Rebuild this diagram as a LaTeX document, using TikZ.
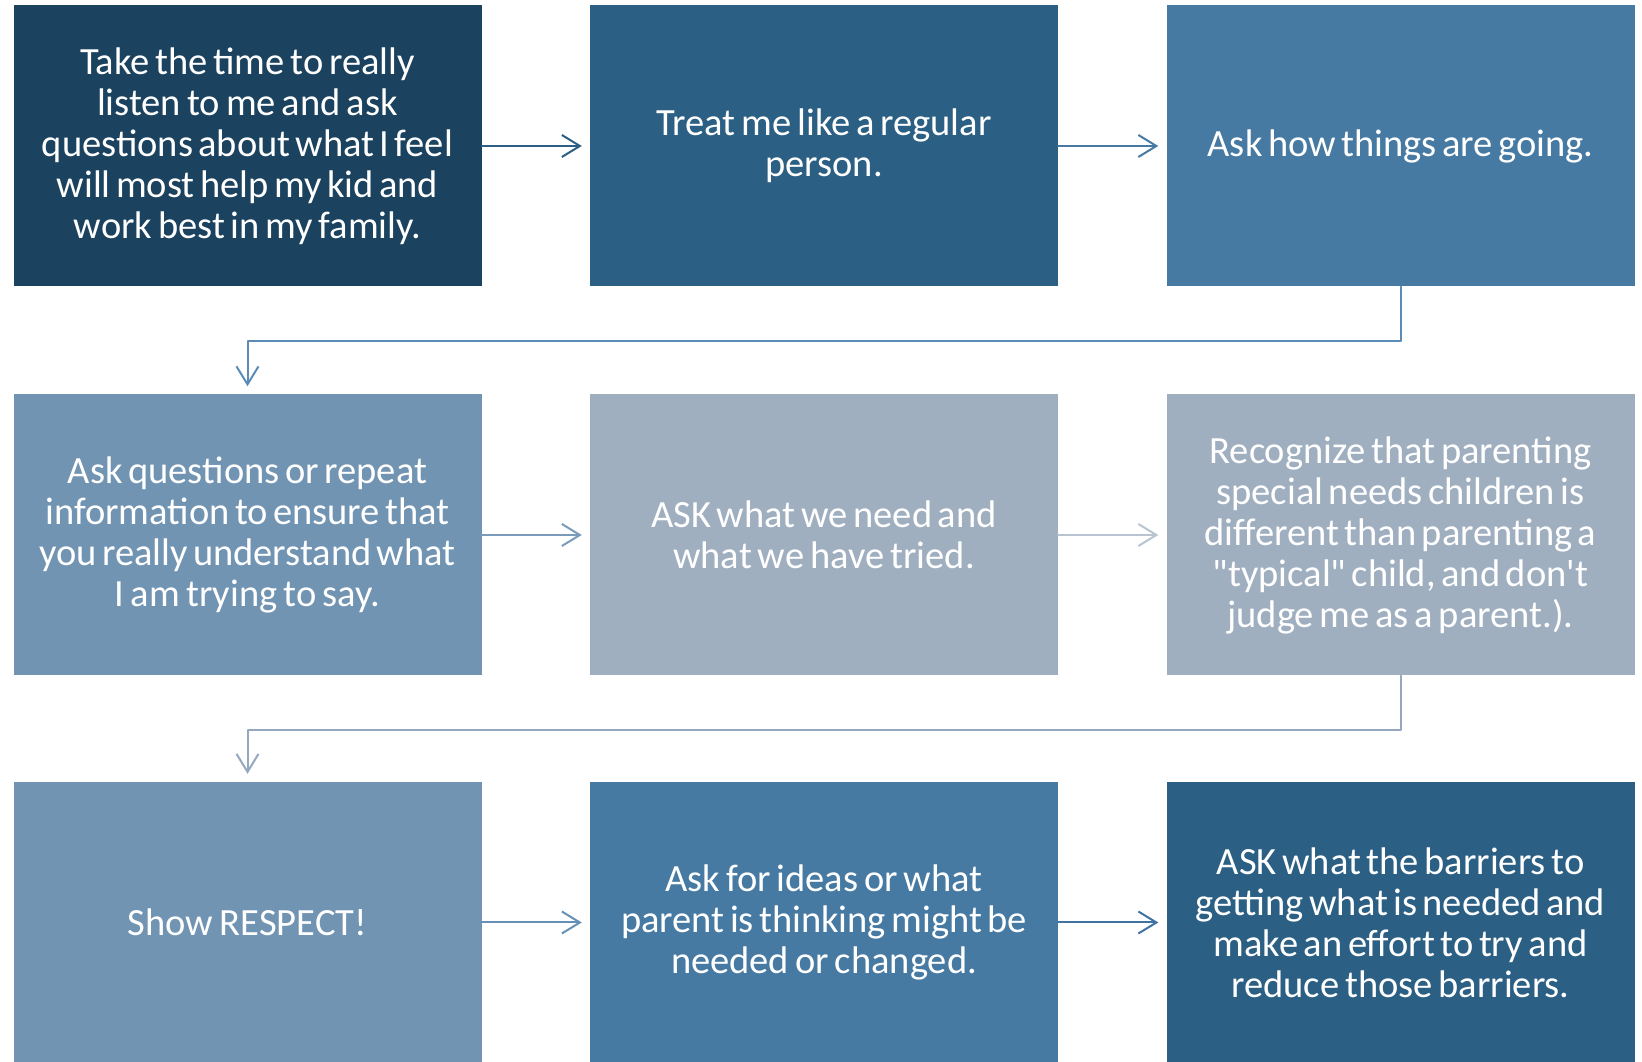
\documentclass[tikz,border=0pt]{standalone}
\usepackage{fontspec}
\setmainfont{Carlito}
\usetikzlibrary{arrows.meta}
\definecolor{navy}{HTML}{1B425E}
\definecolor{steel}{HTML}{2C5F84}
\definecolor{mid}{HTML}{467AA3}
\definecolor{soft}{HTML}{7294B3}
\definecolor{pale}{HTML}{A0AFC0}
\begin{document}
\begin{tikzpicture}[x=1pt, y=1pt, line join=round, line cap=round,
	box/.style={minimum width=468pt, minimum height=281pt, inner sep=0pt, text width=460pt, align=center, text=white, font=\fontsize{38.5}{41}\selectfont, execute at begin node={\spaceskip=5pt plus 1pt minus 1pt\relax}},
	arr/.style={line width=2pt, -{Straight Barb[length=18pt, width=22pt, line width=2pt]}, shorten >=8pt}]
	\useasboundingbox (0,0) rectangle (1642,1062);
	\node[box, fill=navy] (b1) at (247.5,916) {Take the time to really\\listen to me and ask\\questions about what I feel\\will most help my kid and\\work best in my family.};
	\node[box, fill=steel] (b2) at (824,916) {Treat me like a regular\\person.};
	\node[box, fill=mid] (b3) at (1400.5,916) {Ask how things are going.};
	\node[box, fill=soft] (b4) at (247.5,527) {Ask questions or repeat\\information to ensure that\\you really understand what\\I am trying to say.};
	\node[box, fill=pale] (b5) at (824,527) {ASK what we need and\\what we have tried.};
	\node[box, fill=pale] (b6) at (1400.5,527) {Recognize that parenting\\special needs children is\\different than parenting a\\\textquotedbl typical\textquotedbl{} child, and don\textquotesingle t\\judge me as a parent.).};
	\node[box, fill=soft] (b7) at (247.5,139.5) {Show RESPECT!};
	\node[box, fill=mid] (b8) at (824,139.5) {Ask for ideas or what\\parent is thinking might be\\needed or changed.};
	\node[box, fill=steel] (b9) at (1400.5,139.5) {ASK what the barriers to\\getting what is needed and\\make an effort to try and\\reduce those barriers.};
	\draw[arr, steel] (b1) -- (b2);
	\draw[arr, mid] (b2) -- (b3);
	\draw[arr, color={rgb,255:red,91;green,140;blue,184}] (b3.south) -- ++(0,-54) -| (b4.north);
	\draw[arr, color={rgb,255:red,122;green,155;blue,186}] (b4) -- (b5);
	\draw[arr, color={rgb,255:red,184;green,196;blue,210}] (b5) -- (b6);
	\draw[arr, color={rgb,255:red,148;green,169;blue,191}] (b6.south) -- ++(0,-54) -| (b7.north);
	\draw[arr, color={rgb,255:red,102;green,144;blue,182}] (b7) -- (b8);
	\draw[arr, color={rgb,255:red,62;green,115;blue,162}] (b8) -- (b9);
\end{tikzpicture}
\end{document}
